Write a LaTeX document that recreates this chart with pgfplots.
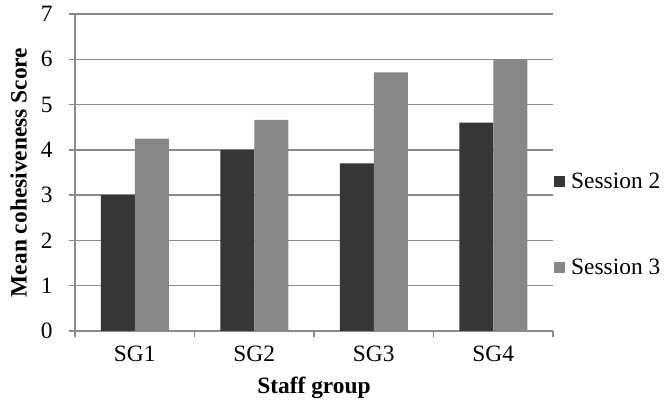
\documentclass[border=0pt]{standalone}
\usepackage{pgfplots}
\pgfplotsset{compat=1.18}
\usepackage{fontspec}
\setmainfont{Liberation Serif}

\definecolor{sesstwo}{HTML}{363636}
\definecolor{sessthree}{HTML}{878787}
\definecolor{gridgray}{HTML}{8A8A8A}

\pgfplotstableread{
grp s2 s3
0 3.00 4.25
1 4.00 4.66
2 3.70 5.71
3 4.60 6.00
}\cohesion

\begin{document}
\begin{tikzpicture}
\useasboundingbox (0,0) rectangle (664bp,409bp);
\begin{axis}[
  at={(75bp,78bp)}, anchor=south west,
  scale only axis, width=478bp, height=317bp,
  font=\fontsize{23.5}{28}\selectfont,
  ybar=0pt, bar width=34bp,
  xmin=-0.5, xmax=3.5,
  ymin=0, ymax=7,
  ytick={0,1,...,7},
  xtick={0,1,2,3},
  xticklabels={SG1,SG2,SG3,SG4},
  minor xtick={-0.5,0.5,1.5,2.5,3.5},
  major x tick style={draw=none},
  minor tick length=6bp,
  major tick length=6bp,
  tick align=outside,
  axis lines*=left,
  axis line style={gridgray, line width=1.3pt, -},
  every tick/.style={gridgray, line width=1.3pt},
  ymajorgrids,
  grid style={gridgray, line width=1.3pt},
  /pgf/number format/assume math mode=true,
  xticklabel style={yshift=-5bp},
  yticklabel style={xshift=-13bp},
  xlabel={\textbf{Staff group}},
  ylabel={\textbf{Mean cohesiveness Score}},
  xlabel style={at={(axis description cs:0.5,-0.18)}, anchor=center},
  ylabel style={at={(axis description cs:-0.118,0.5)}, anchor=center, rotate=0},
  legend style={draw=none, fill=none, at={(rel axis cs:1,0.5)}, anchor=north west,
    xshift=0bp, yshift=2bp, row sep=65bp, inner sep=0pt,
    font=\fontsize{23.5}{28}\selectfont},
  legend cell align=left,
  legend image code/.code={\fill[#1] (1bp,-5.5bp) rectangle (12bp,5.5bp); \path (0bp,0bp) -- (16bp,0bp);},
]
\addplot[fill=sesstwo, draw=none] table[x=grp, y=s2] {\cohesion};
\addplot[fill=sessthree, draw=none] table[x=grp, y=s3] {\cohesion};
\legend{Session 2, Session 3}
\end{axis}
\end{tikzpicture}
\end{document}
